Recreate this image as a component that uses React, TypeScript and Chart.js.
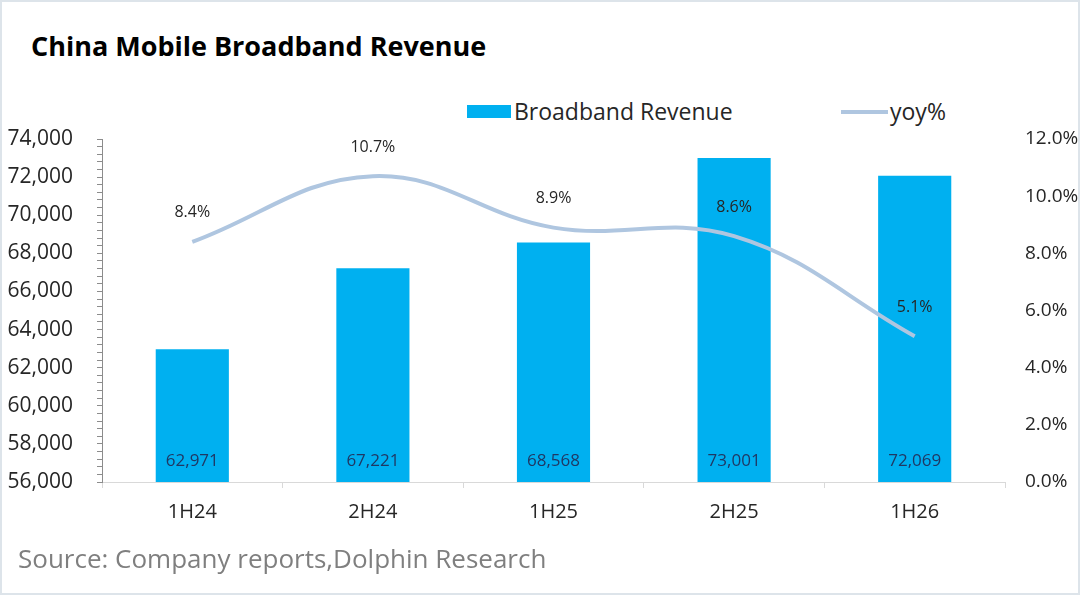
import React, { useEffect, useRef } from "react";
import { Chart, registerables } from "chart.js";

Chart.register(...registerables);

const categories = ["1H24", "2H24", "1H25", "2H25", "1H26"];
const revenue = [62971, 67221, 68568, 73001, 72069];
const yoy = [8.4, 10.7, 8.9, 8.6, 5.1];

const FONT = "'Open Sans', 'Noto Sans', sans-serif";

const valueLabels = {
  id: "valueLabels",
  afterDatasetsDraw(chart: any) {
    const ctx = chart.ctx;
    ctx.save();
    ctx.textAlign = "center";
    ctx.textBaseline = "middle";
    // bar values sit at the foot of each bar
    ctx.font = `17px ${FONT}`;
    ctx.fillStyle = "#1f3864";
    chart.getDatasetMeta(1).data.forEach((el: any, i: number) => {
      ctx.fillText(revenue[i].toLocaleString("en-US"), el.x, chart.chartArea.bottom - 21);
    });
    // yoy labels above the line points
    ctx.font = `16px ${FONT}`;
    ctx.fillStyle = "#262626";
    chart.getDatasetMeta(0).data.forEach((el: any, i: number) => {
      ctx.fillText(yoy[i].toFixed(1) + "%", el.x, el.y - 29);
    });
    ctx.restore();
  },
};

const RevenueChart: React.FC = () => {
  const chartRef = useRef<HTMLCanvasElement>(null);

  useEffect(() => {
    if (!chartRef.current) return;
    const ctx = chartRef.current.getContext("2d");
    if (!ctx) return;
    const myChart = new Chart(ctx, {
      type: "bar",
      data: {
        labels: categories,
        datasets: [
          {
            type: "line",
            label: "yoy%",
            data: yoy,
            yAxisID: "y1",
            borderColor: "#afc6e0",
            borderWidth: 4,
            tension: 0.4,
            pointRadius: 0,
            fill: false,
            order: 0,
          } as any,
          {
            type: "bar",
            label: "Broadband Revenue",
            data: revenue,
            yAxisID: "y",
            backgroundColor: "#00b0f0",
            categoryPercentage: 1,
            barPercentage: 0.405,
            order: 1,
          },
        ],
      },
      options: {
        animation: false,
        responsive: true,
        maintainAspectRatio: false,
        layout: { padding: { top: 139, left: 0, right: 0, bottom: 0 } },
        plugins: {
          legend: { display: false },
          tooltip: { enabled: false },
        },
        scales: {
          x: {
            grid: {
              display: true,
              drawOnChartArea: false,
              drawTicks: true,
              tickLength: 6,
              tickColor: "#d9d9d9",
              offset: true,
            },
            border: { display: true, color: "#d9d9d9", width: 1 },
            ticks: {
              color: "#262626",
              font: { family: FONT, size: 20 },
              padding: 12,
            },
            afterFit: (scale: any) => {
              scale.height = 113;
            },
          },
          y: {
            position: "left",
            min: 56000,
            max: 74000,
            grid: {
              display: true,
              drawOnChartArea: false,
              drawTicks: true,
              tickLength: 5,
              tickColor: "#8c8c8c",
            },
            border: { display: true, color: "#8c8c8c", width: 1 },
            ticks: {
              stepSize: 400,
              autoSkip: false,
              color: "#262626",
              font: { family: FONT, size: 21 },
              padding: 24,
              callback: (v: any) =>
                Number(v) % 2000 === 0 ? Number(v).toLocaleString("en-US") : "",
            },
            afterFit: (scale: any) => {
              scale.width = 102;
            },
          },
          y1: {
            position: "right",
            min: 0,
            max: 12,
            grid: { display: false, drawOnChartArea: false },
            border: { display: false },
            ticks: {
              stepSize: 2,
              color: "#262626",
              font: { family: FONT, size: 19 },
              padding: 12,
              callback: (v: any) => Number(v).toFixed(1) + "%",
            },
            afterFit: (scale: any) => {
              scale.width = 75;
            },
          },
        },
      },
      plugins: [valueLabels],
    });

    return () => {
      myChart.destroy();
    };
  }, []);

  return <canvas ref={chartRef} />;
};

const App: React.FC = () => {
  return (
    <div
      style={{
        position: "fixed",
        left: 0,
        top: 0,
        width: 1080,
        height: 595,
        background: "#ffffff",
        fontFamily: FONT,
        overflow: "hidden",
      }}
    >
      <div
        style={{
          position: "absolute",
          left: 31,
          top: 27,
          fontSize: 27,
          fontWeight: 700,
          color: "#000000",
          whiteSpace: "nowrap",
        }}
      >
        China Mobile Broadband Revenue
      </div>

      {/* legend */}
      <div
        style={{
          position: "absolute",
          left: 467,
          top: 105,
          width: 44,
          height: 13,
          background: "#00b0f0",
        }}
      />
      <div
        style={{
          position: "absolute",
          left: 514,
          top: 95,
          fontSize: 23,
          color: "#262626",
          whiteSpace: "nowrap",
        }}
      >
        Broadband Revenue
      </div>
      <div
        style={{
          position: "absolute",
          left: 841,
          top: 110,
          width: 47,
          height: 4,
          background: "#afc6e0",
        }}
      />
      <div
        style={{
          position: "absolute",
          left: 890,
          top: 95,
          fontSize: 23,
          color: "#262626",
          whiteSpace: "nowrap",
        }}
      >
        yoy%
      </div>

      <div style={{ position: "absolute", left: 0, top: 0, width: 1080, height: 595 }}>
        <RevenueChart />
      </div>

      <div
        style={{
          position: "absolute",
          left: 18,
          top: 540,
          fontSize: 26,
          color: "#7f7f7f",
          whiteSpace: "nowrap",
        }}
      >
        Source: Company reports,Dolphin Research
      </div>

      <div
        style={{
          position: "absolute",
          left: 0,
          top: 0,
          width: 1080,
          height: 595,
          boxSizing: "border-box",
          border: "2px solid #dde4ea",
          pointerEvents: "none",
        }}
      />
    </div>
  );
};

export default App;
